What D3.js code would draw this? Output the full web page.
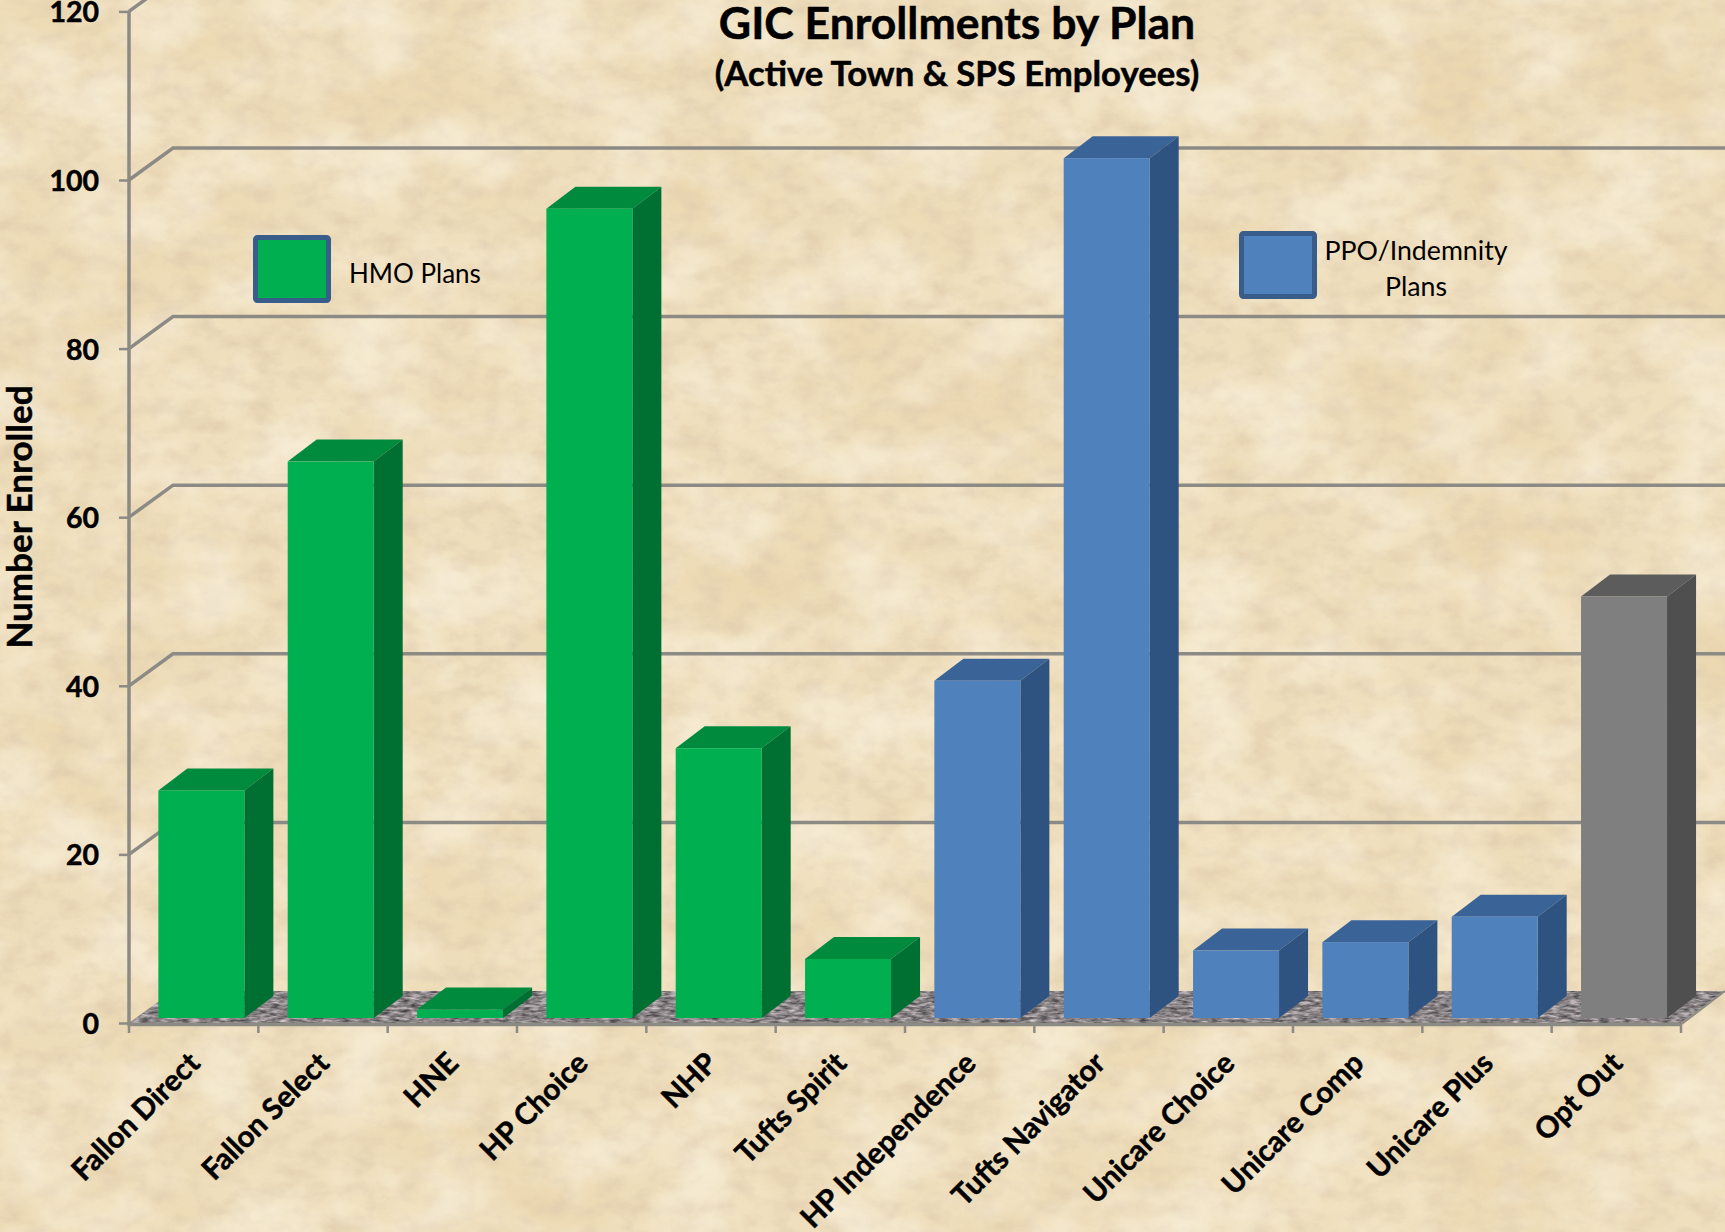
<!DOCTYPE html>
<html>
<head>
<meta charset="utf-8">
<title>GIC Enrollments by Plan</title>
<script src="https://cdn.jsdelivr.net/npm/d3@7"></script>
<style>
    html, body { margin: 0; padding: 0; background: #efdfba; overflow: hidden; }
    svg { display: block; }
    text { font-family: Lato, "Open Sans", sans-serif; fill: #000; }
    .bold { font-weight: 700; stroke: #000; stroke-width: 0.5px; }
    .axis text { font-weight: 700; font-size: 29.5px; stroke: #000; stroke-width: 0.5px; }
    .axis path { display: none; }
    .axis line { stroke: #8c8a85; stroke-width: 2.5; }
</style>
</head>
<body>
<div id="chart"></div>
<script>
const categories = ["Fallon Direct", "Fallon Select", "HNE", "HP Choice", "NHP", "Tufts Spirit",
    "HP Independence", "Tufts Navigator", "Unicare Choice", "Unicare Comp", "Unicare Plus", "Opt Out"];
const enrolled = [27, 66, 1, 96, 32, 7, 40, 102, 8, 9, 12, 50];
const planGroup = ["hmo", "hmo", "hmo", "hmo", "hmo", "hmo", "ppo", "ppo", "ppo", "ppo", "ppo", "other"];
const yTicks = [0, 20, 40, 60, 80, 100, 120];

const width = 1725, height = 1232;

// couleurs face / côté / dessus
const colors = {
    hmo: { front: "#00b050", side: "#006f32", top: "#008a3e" },
    ppo: { front: "#4f81bd", side: "#2f5380", top: "#3a6497" },
    other: { front: "#7f7f7f", side: "#4f4f4f", top: "#5c5c5c" }
};

const x = d3.scaleBand().domain(categories).range([129, 1681]).paddingInner(0).paddingOuter(0);
const y = d3.scaleLinear().domain([0, 120]).range([1023, 11.4]);

// profondeur de la pseudo 3D
const wallDx = 44, wallDy = -32;
const barDx = 29, barDy = -22;
const barShiftX = 7.7, barShiftY = -5;
const barW = 86;

const svg = d3.select("#chart").append("svg")
    .attr("width", width)
    .attr("height", height);

const defs = svg.append("defs");

// texture parchemin : grandes taches + fibres fines
const paper = defs.append("filter").attr("id", "paper")
    .attr("x", 0).attr("y", 0).attr("width", "100%").attr("height", "100%");
paper.append("feTurbulence").attr("type", "fractalNoise").attr("baseFrequency", "0.005 0.006")
    .attr("numOctaves", 4).attr("seed", 7);
paper.append("feColorMatrix").attr("type", "matrix")
    .attr("values", "0 0 0 0 0.82  0 0 0 0 0.66  0 0 0 0 0.40  2.4 0 0 0 -0.95");

const fine = defs.append("filter").attr("id", "fine")
    .attr("x", 0).attr("y", 0).attr("width", "100%").attr("height", "100%");
fine.append("feTurbulence").attr("type", "fractalNoise").attr("baseFrequency", "0.04 0.06")
    .attr("numOctaves", 4).attr("seed", 21);
fine.append("feColorMatrix").attr("type", "matrix")
    .attr("values", "0 0 0 0 0.74  0 0 0 0 0.60  0 0 0 0 0.42  0 2.6 0 0 -1.05");

const light = defs.append("filter").attr("id", "light")
    .attr("x", 0).attr("y", 0).attr("width", "100%").attr("height", "100%");
light.append("feTurbulence").attr("type", "fractalNoise").attr("baseFrequency", "0.012 0.016")
    .attr("numOctaves", 5).attr("seed", 40);
light.append("feColorMatrix").attr("type", "matrix")
    .attr("values", "0 0 0 0 1  0 0 0 0 0.96  0 0 0 0 0.86  0 0 2.4 0 -0.95");

// texture du sol
const speckle = defs.append("filter").attr("id", "speckle")
    .attr("color-interpolation-filters", "sRGB")
    .attr("x", 0).attr("y", 0).attr("width", "100%").attr("height", "100%");
speckle.append("feTurbulence").attr("type", "fractalNoise").attr("baseFrequency", "0.1 0.4")
    .attr("numOctaves", 3).attr("seed", 3);
speckle.append("feColorMatrix").attr("type", "matrix")
    .attr("values", "0.8 0 0 0 0.14  0.75 0 0 0 0.14  0.75 0 0 0 0.15  0 0 0 0 1");
speckle.append("feComposite").attr("in2", "SourceGraphic").attr("operator", "in");

svg.append("rect").attr("width", width).attr("height", height).attr("fill", "#efdfbd");
svg.append("rect").attr("width", width).attr("height", height).attr("filter", "url(#paper)").attr("opacity", 0.65);
svg.append("rect").attr("width", width).attr("height", height).attr("filter", "url(#fine)").attr("opacity", 0.6);
svg.append("rect").attr("width", width).attr("height", height).attr("filter", "url(#light)").attr("opacity", 0.45);

// sol
const xLeft = x.range()[0], xRight = x.range()[1];
const floorPts = [[xLeft, y(0)], [xLeft + wallDx, y(0) + wallDy], [xRight + wallDx, y(0) + wallDy], [xRight, y(0)]];
svg.append("path")
    .attr("d", d3.line()(floorPts) + "Z")
    .attr("fill", "#8a8682")
    .attr("filter", "url(#speckle)");
svg.append("line")
    .attr("x1", xLeft).attr("x2", xRight)
    .attr("y1", y(0) + 1.5).attr("y2", y(0) + 1.5)
    .attr("stroke", "#8c8a85").attr("stroke-width", 3.5);
svg.append("line")
    .attr("x1", xRight).attr("x2", xRight + wallDx)
    .attr("y1", y(0) + 1.5).attr("y2", y(0) + wallDy)
    .attr("stroke", "#8c8a85").attr("stroke-width", 2);

// lignes de grille sur les murs
svg.append("g").selectAll("path")
    .data(yTicks.filter(d => d > 0))
    .join("path")
    .attr("d", d => d3.line()([[xLeft, y(d)], [xLeft + wallDx, y(d) + wallDy], [width, y(d) + wallDy]]))
    .attr("fill", "none")
    .attr("stroke", "#8c8a85")
    .attr("stroke-width", 3.5);

// axe y
svg.append("line")
    .attr("x1", xLeft).attr("x2", xLeft)
    .attr("y1", y(120)).attr("y2", y(0) + 3)
    .attr("stroke", "#8c8a85").attr("stroke-width", 3.5);

const yAxis = svg.append("g").attr("class", "axis")
    .attr("transform", `translate(${xLeft},0)`)
    .call(d3.axisLeft(y).tickValues(yTicks).tickSize(10).tickPadding(20));

yAxis.selectAll("text").attr("dy", "0.37em").style("font-size", "28.5px");

// axe x : graduations entre les catégories
svg.append("g").selectAll("line")
    .data(d3.range(categories.length + 1))
    .join("line")
    .attr("x1", i => xLeft + i * x.step())
    .attr("x2", i => xLeft + i * x.step())
    .attr("y1", y(0) + 2)
    .attr("y2", y(0) + 10)
    .attr("stroke", "#8c8a85")
    .attr("stroke-width", 2.5);

const xAxis = svg.append("g").attr("class", "axis")
    .attr("transform", `translate(0,${y(0)})`)
    .call(d3.axisBottom(x).tickSize(0));

xAxis.selectAll("text")
    .attr("text-anchor", "end")
    .attr("dx", 0)
    .attr("dy", 0)
    .attr("y", 0)
    .attr("transform", "translate(8,42) rotate(-45)");

// barres
const bars = svg.append("g").selectAll("g")
    .data(categories.map((c, i) => ({ name: c, value: enrolled[i], group: planGroup[i] })))
    .join("g");

function barX(d) {
    return x(d.name) + (x.step() - barW) / 2 + barShiftX;
}
function barBottom() {
    return y(0) + barShiftY;
}
function barTop(d) {
    return y(d.value) + barShiftY;
}

bars.append("path")
    .attr("d", d => d3.line()([
        [barX(d), barTop(d)], [barX(d) + barDx, barTop(d) + barDy],
        [barX(d) + barW + barDx, barTop(d) + barDy], [barX(d) + barW, barTop(d)]
    ]) + "Z")
    .attr("fill", d => colors[d.group].top);

bars.append("path")
    .attr("d", d => d3.line()([
        [barX(d) + barW, barTop(d)], [barX(d) + barW + barDx, barTop(d) + barDy],
        [barX(d) + barW + barDx, barBottom() + barDy], [barX(d) + barW, barBottom()]
    ]) + "Z")
    .attr("fill", d => colors[d.group].side);

bars.append("rect")
    .attr("x", barX)
    .attr("y", barTop)
    .attr("width", barW)
    .attr("height", d => barBottom() - barTop(d))
    .attr("fill", d => colors[d.group].front);

// titres
svg.append("text")
    .attr("class", "bold")
    .attr("x", 957).attr("y", 39)
    .attr("text-anchor", "middle")
    .style("font-size", "44.5px")
    .text("GIC Enrollments by Plan");

svg.append("text")
    .attr("class", "bold")
    .attr("x", 957).attr("y", 86)
    .attr("text-anchor", "middle")
    .style("font-size", "34.7px")
    .text("(Active Town & SPS Employees)");

svg.append("text")
    .attr("class", "bold")
    .attr("transform", "translate(32,517) rotate(-90)")
    .attr("text-anchor", "middle")
    .style("font-size", "35px")
    .text("Number Enrolled");

// légendes
svg.append("rect")
    .attr("x", 255.5).attr("y", 237.5).attr("width", 73).attr("height", 63).attr("rx", 2)
    .attr("fill", colors.hmo.front).attr("stroke", "#385d8a").attr("stroke-width", 5);
svg.append("text")
    .attr("x", 349).attr("y", 283)
    .style("font-size", "26px")
    .text("HMO Plans");

svg.append("rect")
    .attr("x", 1241.5).attr("y", 233.5).attr("width", 73).attr("height", 63).attr("rx", 2)
    .attr("fill", colors.ppo.front).attr("stroke", "#385d8a").attr("stroke-width", 5);
svg.append("text")
    .attr("x", 1416).attr("y", 260)
    .attr("text-anchor", "middle")
    .style("font-size", "26.7px")
    .text("PPO/Indemnity");
svg.append("text")
    .attr("x", 1416).attr("y", 296)
    .attr("text-anchor", "middle")
    .style("font-size", "26.7px")
    .text("Plans");
</script>
</body>
</html>
